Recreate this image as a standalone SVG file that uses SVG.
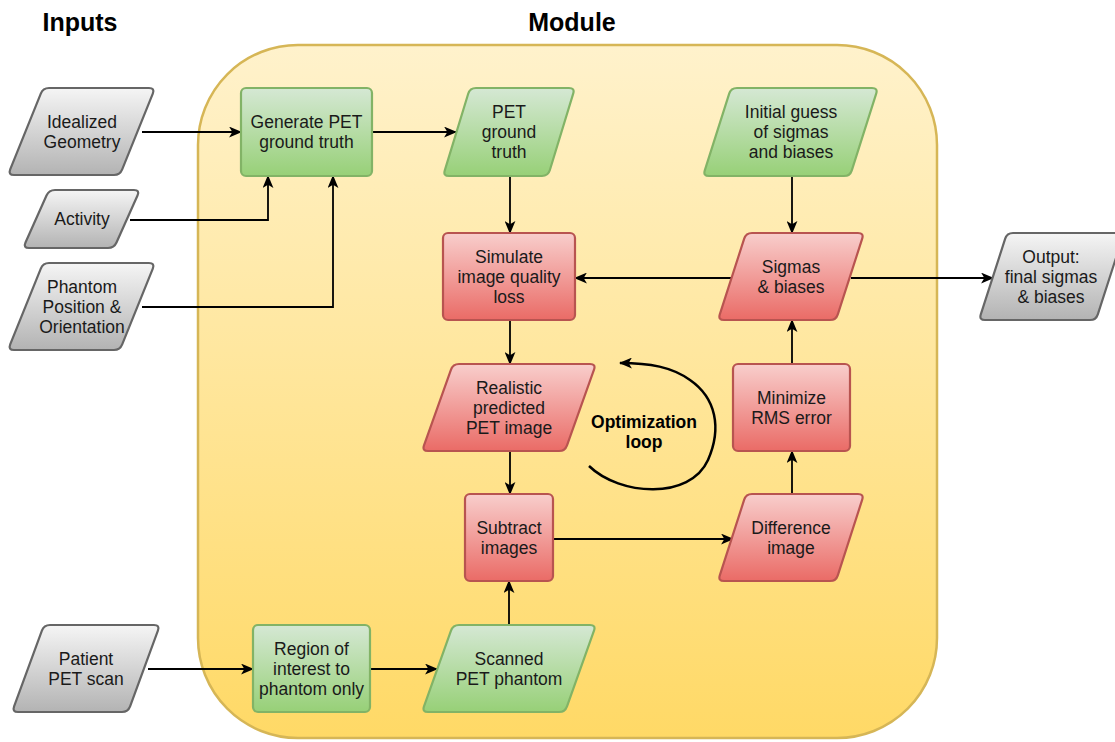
<svg xmlns="http://www.w3.org/2000/svg" width="1115" height="742" viewBox="0 0 1115 742">
<defs>
<linearGradient id="gYel" x1="0" y1="0" x2="0" y2="1"><stop offset="0" stop-color="#fff2cc"/><stop offset="1" stop-color="#ffd966"/></linearGradient>
<linearGradient id="gGray" x1="0" y1="0" x2="0" y2="1"><stop offset="0" stop-color="#f5f5f5"/><stop offset="1" stop-color="#b3b3b3"/></linearGradient>
<linearGradient id="gGreen" x1="0" y1="0" x2="0" y2="1"><stop offset="0" stop-color="#d5e8d4"/><stop offset="1" stop-color="#97d077"/></linearGradient>
<linearGradient id="gRed" x1="0" y1="0" x2="0" y2="1"><stop offset="0" stop-color="#f8cecc"/><stop offset="1" stop-color="#ea6b66"/></linearGradient>
<marker id="arr" viewBox="0 0 12 10" refX="11" refY="5" markerWidth="13" markerHeight="11" markerUnits="userSpaceOnUse" orient="auto">
<path d="M0,0 L12,5 L0,10 L3,5 Z" fill="#000"/>
</marker>
</defs>
<style>
.gray{fill:url(#gGray);stroke:#666666;stroke-width:2.2}
.green{fill:url(#gGreen);stroke:#82b366;stroke-width:2.2}
.red{fill:url(#gRed);stroke:#b85450;stroke-width:2.2}
.t{font-family:"Liberation Sans",Arial,Helvetica,sans-serif;font-size:17.5px;fill:#1a1a1a;text-anchor:middle}
.h{font-family:"Liberation Sans",Arial,Helvetica,sans-serif;font-size:25px;font-weight:bold;fill:#000;text-anchor:middle}
.b{font-family:"Liberation Sans",Arial,Helvetica,sans-serif;font-size:17.5px;font-weight:bold;fill:#000;text-anchor:middle}
.c{fill:none;stroke:#000;stroke-width:1.8;marker-end:url(#arr)}
</style>
<rect width="1115" height="742" fill="#ffffff"/>
<g id="module">
<rect x="198" y="45" width="739" height="693" rx="100" ry="100" fill="url(#gYel)" stroke="#d6b656" stroke-width="2.5"/>
</g>
<text class="h" x="80" y="31">Inputs</text>
<text class="h" x="572" y="31">Module</text>

<g id="connectors">
<path class="c" d="M142,132 L241,132"/>
<path class="c" d="M130,220 L268,220 L268,176"/>
<path class="c" d="M142,307 L333,307 L333,176"/>
<path class="c" d="M372,132 L456,132"/>
<path class="c" d="M510,176 L510,233"/>
<path class="c" d="M792,176 L792,233"/>
<path class="c" d="M734,278 L575,278"/>
<path class="c" d="M851,278 L993,278"/>
<path class="c" d="M510,320 L510,364"/>
<path class="c" d="M510,451 L510,494"/>
<path class="c" d="M553,539 L733,539"/>
<path class="c" d="M792,494 L792,451"/>
<path class="c" d="M792,364 L792,320"/>
<path class="c" d="M148,669 L253,669"/>
<path class="c" d="M370,669 L437,669"/>
<path class="c" d="M509,625 L509,581"/>
<path id="loop" d="M589,466 C620,496 690,500 708,460 C722,428 716,398 690,380 C672,367 650,363 620,363" fill="none" stroke="#000" stroke-width="2.5" marker-end="url(#arr)"/>
</g>

<g id="n-idealized">
<path class="gray" d="M49,88 L149,88 Q155,88 152.8,93.6 L122.2,169.4 Q120,175 114,175 L14,175 Q8,175 10.2,169.4 L40.8,93.6 Q43,88 49,88 Z"/>
<text class="t" x="82" y="127.5">Idealized</text><text class="t" x="82" y="147.5">Geometry</text>
</g>
<g id="n-activity">
<path class="gray" d="M55,190 L134,190 Q140,190 137.5,195.5 L116.5,242.5 Q114,248 108,248 L29,248 Q23,248 25.5,242.5 L46.5,195.5 Q49,190 55,190 Z"/>
<text class="t" x="82" y="225">Activity</text>
</g>
<g id="n-phantom">
<path class="gray" d="M49,263 L149,263 Q155,263 152.8,268.6 L122.2,344.4 Q120,350 114,350 L14,350 Q8,350 10.2,344.4 L40.8,268.6 Q43,263 49,263 Z"/>
<text class="t" x="82" y="292.5">Phantom</text><text class="t" x="82" y="312.5">Position &amp;</text><text class="t" x="82" y="332.5">Orientation</text>
</g>
<g id="n-patient">
<path class="gray" d="M50,625 L154,625 Q160,625 157.9,630.6 L130.1,706.4 Q128,712 122,712 L18,712 Q12,712 14.1,706.4 L41.9,630.6 Q44,625 50,625 Z"/>
<text class="t" x="86" y="664.5">Patient</text><text class="t" x="86" y="684.5">PET scan</text>
</g>
<g id="n-output">
<path class="gray" d="M1013,233 L1118,233 Q1124,233 1122.2,238.7 L1097.8,314.3 Q1096,320 1090,320 L985,320 Q979,320 980.8,314.3 L1005.2,238.7 Q1007,233 1013,233 Z"/>
<text class="t" x="1051" y="262.5">Output:</text><text class="t" x="1051" y="282.5">final sigmas</text><text class="t" x="1051" y="302.5">&amp; biases</text>
</g>
<g id="n-generate">
<rect class="green" x="241" y="88" width="131" height="88" rx="5"/>
<text class="t" x="306.5" y="128">Generate PET</text><text class="t" x="306.5" y="148">ground truth</text>
</g>
<g id="n-petgt">
<path class="green" d="M476,88 L569,88 Q575,88 573.2,93.7 L549.8,170.3 Q548,176 542,176 L449,176 Q443,176 444.8,170.3 L468.2,93.7 Q470,88 476,88 Z"/>
<text class="t" x="509" y="118">PET</text><text class="t" x="509" y="138">ground</text><text class="t" x="509" y="158">truth</text>
</g>
<g id="n-initial">
<path class="green" d="M737,88 L872,88 Q878,88 876.2,93.7 L851.8,170.3 Q850,176 844,176 L709,176 Q703,176 704.8,170.3 L729.2,93.7 Q731,88 737,88 Z"/>
<text class="t" x="791" y="118">Initial guess</text><text class="t" x="791" y="138">of sigmas</text><text class="t" x="791" y="158">and biases</text>
</g>
<g id="n-simulate">
<rect class="red" x="443" y="233" width="132" height="87" rx="5"/>
<text class="t" x="509" y="262.5">Simulate</text><text class="t" x="509" y="282.5">image quality</text><text class="t" x="509" y="302.5">loss</text>
</g>
<g id="n-sigmas">
<path class="red" d="M752,233 L858,233 Q864,233 862.2,238.7 L837.8,314.3 Q836,320 830,320 L724,320 Q718,320 719.8,314.3 L744.2,238.7 Q746,233 752,233 Z"/>
<text class="t" x="791" y="272.5">Sigmas</text><text class="t" x="791" y="292.5">&amp; biases</text>
</g>
<g id="n-realistic">
<path class="red" d="M459,364 L590,364 Q596,364 594,369.7 L567,445.3 Q565,451 559,451 L428,451 Q422,451 424,445.3 L451,369.7 Q453,364 459,364 Z"/>
<text class="t" x="509" y="393.5">Realistic</text><text class="t" x="509" y="413.5">predicted</text><text class="t" x="509" y="433.5">PET image</text>
</g>
<g id="n-minimize">
<rect class="red" x="733" y="364" width="117" height="87" rx="5"/>
<text class="t" x="791.5" y="403.5">Minimize</text><text class="t" x="791.5" y="423.5">RMS error</text>
</g>
<g id="n-subtract">
<rect class="red" x="465" y="494" width="88" height="87" rx="5"/>
<text class="t" x="509" y="533.5">Subtract</text><text class="t" x="509" y="553.5">images</text>
</g>
<g id="n-difference">
<path class="red" d="M752,494 L858,494 Q864,494 862.2,499.7 L837.8,575.3 Q836,581 830,581 L724,581 Q718,581 719.8,575.3 L744.2,499.7 Q746,494 752,494 Z"/>
<text class="t" x="791" y="533.5">Difference</text><text class="t" x="791" y="553.5">image</text>
</g>
<g id="n-region">
<rect class="green" x="253" y="625" width="117" height="87" rx="5"/>
<text class="t" x="311.5" y="654.5">Region of</text><text class="t" x="311.5" y="674.5">interest to</text><text class="t" x="311.5" y="694.5">phantom only</text>
</g>
<g id="n-scanned">
<path class="green" d="M459,625 L590,625 Q596,625 594,630.7 L567,706.3 Q565,712 559,712 L428,712 Q422,712 424,706.3 L451,630.7 Q453,625 459,625 Z"/>
<text class="t" x="509" y="664.5">Scanned</text><text class="t" x="509" y="684.5">PET phantom</text>
</g>
<g id="label-loop">
<text class="b" x="644" y="428">Optimization</text><text class="b" x="644" y="448">loop</text>
</g>
</svg>
